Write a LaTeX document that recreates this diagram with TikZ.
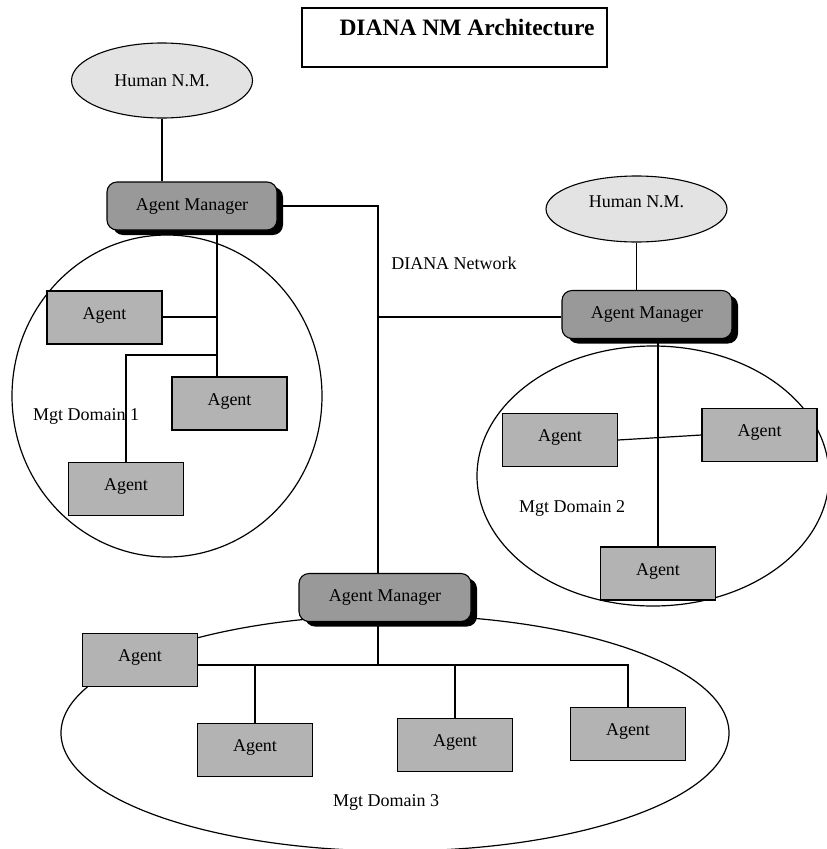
\documentclass[tikz,border=0pt]{standalone}
\usepackage{fontspec}
\setmainfont{Liberation Serif}
\usetikzlibrary{shapes.geometric,shadows}
\definecolor{humanfill}{HTML}{E3E3E3}
\definecolor{mgrfill}{HTML}{999999}
\definecolor{agentfill}{HTML}{B3B3B3}
\begin{document}
\begin{tikzpicture}[x=1pt,y=-1pt,
  every node/.style={font=\fontsize{18}{21}\selectfont},
  conn/.style={draw=black,line width=1.2pt},
  domainshape/.style={ellipse,draw=black,line width=1.2pt,inner sep=0pt},
  human/.style={ellipse,draw=black,line width=1.1pt,fill=humanfill,minimum width=181pt,inner sep=0pt},
  mgr/.style={draw=black,line width=1.1pt,fill=mgrfill,rounded corners=10pt,minimum width=170pt,minimum height=48pt,inner sep=0pt,
     drop shadow={shadow xshift=6pt,shadow yshift=-5pt,fill=black,opacity=1}},
  agentbox/.style={draw=black,line width=1.1pt,fill=agentfill,minimum width=115pt,minimum height=53pt,inner sep=0pt,text depth=8pt},
  plain/.style={inner sep=0pt}]
\useasboundingbox (0,0) rectangle (827,849);
% management domains
\node[domainshape,minimum width=310pt,minimum height=322pt] (dom1) at (167,396) {};
\node[domainshape,minimum width=352pt,minimum height=260pt] (dom2) at (653,476) {};
\node[domainshape,minimum width=668pt,minimum height=236pt] (dom3) at (395,733) {};
% title
\node[draw=black,line width=1.1pt,minimum width=305pt,minimum height=59pt,inner sep=0pt] (titlebox) at (454.5,37.5) {};
\node[plain,font=\fontsize{23.5}{26}\selectfont\bfseries] (titletext) at (467,27) {DIANA NM Architecture};
% human network managers
\node[human,minimum height=75pt] (h1) at (162,80.5) {Human N.M.};
\node[human,minimum height=66pt,text depth=14pt] (h2) at (636.5,209) {Human N.M.};
% agent managers
\node[mgr] (am1) at (192,206) {Agent Manager};
\node[mgr] (am2) at (647,314.5) {Agent Manager};
\node[mgr,minimum width=172pt] (am3) at (385,597.5) {Agent Manager};
% agents domain 1
\node[agentbox] (a1) at (104.5,317.5) {Agent};
\node[agentbox] (a2) at (229.5,403.5) {Agent};
\node[agentbox] (a3) at (126,489) {Agent};
% agents domain 2
\node[agentbox] (d2a) at (560,440) {Agent};
\node[agentbox] (d2b) at (759.5,435) {Agent};
\node[agentbox] (d2c) at (658,573.5) {Agent};
% agents domain 3
\node[agentbox] (d3l) at (140,660) {Agent};
\node[agentbox] (b1) at (255,750) {Agent};
\node[agentbox] (b2) at (455,745) {Agent};
\node[agentbox] (b3) at (628,734) {Agent};
% labels
\node[plain] (netlabel) at (454,263) {DIANA Network};
\node[plain] (lab1) at (86,416) {Mgt Domain 1};
\node[plain] (lab2) at (572,508) {Mgt Domain 2};
\node[plain] (lab3) at (386,802) {Mgt Domain 3};
% junction coordinates
\coordinate (net) at (378,317);
\coordinate (j1) at (217,317);
\coordinate (j2) at (217,355);
\coordinate (bus) at (378,665);
% connectors
\draw[conn] (h1.south) -- (h1.south |- am1.north);
\draw[conn] (h2.south) -- (h2.south |- am2.north);
\draw[conn] (am1.east) -| (net);
\draw[conn] (net) -- (net |- am3.north);
\draw[conn] (net) -- (net -| am2.west);
\draw[conn] (j1 |- am1.south) -- (j1 |- a2.north);
\draw[conn] (a1.east |- j1) -- (j1);
\draw[conn] (j2) -| (a3.north);
\draw[conn] (d2c.north |- am2.south) -- (d2c.north);
\draw[conn] (d2a.east) -- (d2b.west);
\draw[conn] (bus |- am3.south) -- (bus);
\draw[conn] (bus -| d3l.east) -- (bus -| b3.north) -- (b3.north);
\draw[conn] (bus -| b1.north) -- (b1.north);
\draw[conn] (bus -| b2.north) -- (b2.north);
\end{tikzpicture}
\end{document}
